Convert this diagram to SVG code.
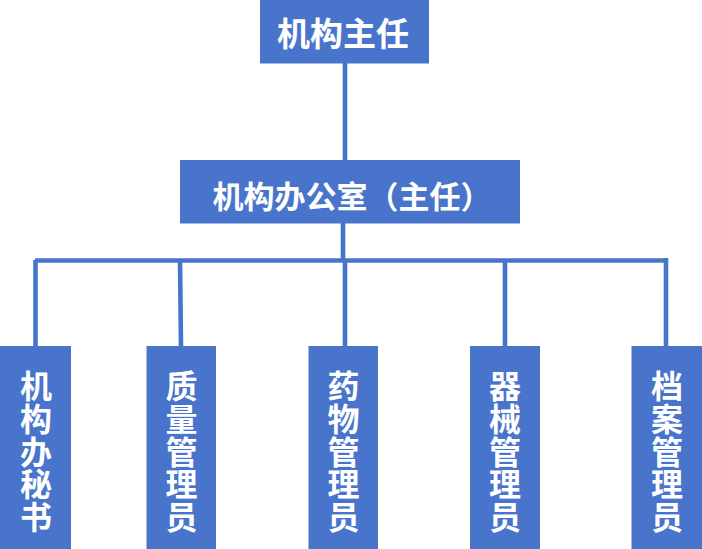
<svg xmlns="http://www.w3.org/2000/svg" width="702" height="549" viewBox="0 0 702 549">
<style>
.box{fill:#4874CB;}
.lbl{fill:#FFFFFF;font-family:"Noto Sans CJK SC","Noto Sans CJK TC",sans-serif;font-weight:bold;text-anchor:middle;}
.vlbl{fill:#FFFFFF;font-family:"Noto Sans CJK SC","Noto Sans CJK TC",sans-serif;font-weight:bold;font-size:32px;writing-mode:vertical-rl;text-anchor:start;letter-spacing:0.75px;}
.conn{stroke:#4874CB;stroke-width:4.6;fill:none;}
</style>
<rect width="702" height="549" fill="#FFFFFF"/>
<g id="connectors">
<line class="conn" x1="345" y1="63" x2="345" y2="161"/>
<line class="conn" x1="343" y1="222" x2="343" y2="261"/>
<line class="conn" x1="35" y1="260.5" x2="667" y2="260.5"/>
<line class="conn" x1="35.5" y1="260" x2="35.5" y2="347"/>
<line class="conn" x1="180" y1="260" x2="181" y2="347"/>
<line class="conn" x1="345" y1="260" x2="345" y2="347"/>
<line class="conn" x1="505" y1="260" x2="505" y2="347"/>
<line class="conn" x1="666" y1="258" x2="666" y2="347"/>
</g>
<g id="director">
<rect class="box" x="260" y="0" width="169" height="63.5"/>
<text class="lbl" x="343" y="46" font-size="33">机构主任</text>
</g>
<g id="office">
<rect class="box" x="180" y="160" width="340" height="63.5"/>
<text class="lbl" x="352" y="208" font-size="31">机构办公室（主任）</text>
</g>
<g id="secretary">
<rect class="box" x="0" y="346" width="71" height="203"/>
<text class="vlbl" x="36" y="370">机构办秘书</text>
</g>
<g id="quality">
<rect class="box" x="146.5" y="346" width="69.5" height="203"/>
<text class="vlbl" x="181.5" y="370">质量管理员</text>
</g>
<g id="drug">
<rect class="box" x="308.5" y="346" width="69.5" height="203"/>
<text class="vlbl" x="343.5" y="370">药物管理员</text>
</g>
<g id="device">
<rect class="box" x="470" y="346" width="70" height="203"/>
<text class="vlbl" x="505" y="370">器械管理员</text>
</g>
<g id="archive">
<rect class="box" x="631.5" y="346" width="70.5" height="203"/>
<text class="vlbl" x="667" y="370">档案管理员</text>
</g>
</svg>
